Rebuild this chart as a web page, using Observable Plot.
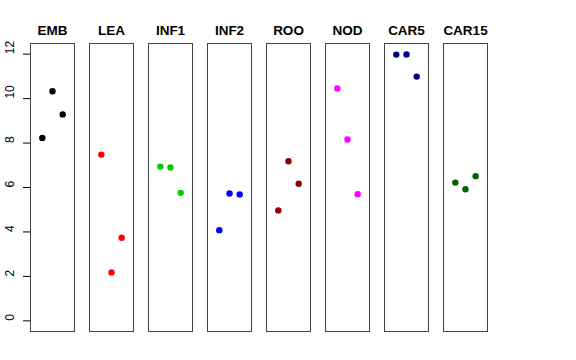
<!DOCTYPE html>
<html>
<head>
<meta charset="utf-8">
<script src="https://cdn.jsdelivr.net/npm/d3@7"></script>
<script src="https://cdn.jsdelivr.net/npm/@observablehq/plot@0.6"></script>
<style>
  html, body { margin: 0; padding: 0; background: #fff; }
  #chart svg { font-family: "Liberation Sans", Arial, Helvetica, sans-serif; }
  #chart g[aria-label="fx-axis tick label"] text { font-weight: bold; }
</style>
</head>
<body>
<div id="chart"></div>
<script>
const panels = ["EMB", "LEA", "INF1", "INF2", "ROO", "NOD", "CAR5", "CAR15"];
const panelColors = ["#000000", "#FF0000", "#00CD00", "#0000FF", "#8B0000", "#FF00FF", "#000080", "#006400"];
const rep1 = [8.23, 7.48, 6.94, 4.08, 4.97, 10.46, 11.98, 6.22];
const rep2 = [10.33, 2.18, 6.90, 5.73, 7.18, 8.16, 11.99, 5.92];
const rep3 = [9.29, 3.74, 5.76, 5.69, 6.17, 5.70, 10.99, 6.51];
const yTicks = [0, 2, 4, 6, 8, 10, 12];

const rows = [];
panels.forEach((p, i) => {
  [rep1, rep2, rep3].forEach((rep, j) => {
    rows.push({panel: p, rep: j + 1, value: rep[i], color: panelColors[i]});
  });
});

const chart = Plot.plot({
  width: 576,
  height: 360,
  marginLeft: 29,
  marginRight: 88,
  marginTop: 43,
  marginBottom: 29,
  style: {fontFamily: '"Liberation Sans", Arial, Helvetica, sans-serif', background: "#fff"},
  fx: {domain: panels, paddingInner: 0.25, paddingOuter: 0, label: null},
  x: {domain: [-0.16, 4.16], axis: null},
  y: {domain: [-0.48, 12.48], axis: null},
  color: {type: "identity"},
  marks: [
    Plot.frame({stroke: "#444", strokeWidth: 1}),
    Plot.axisFx({anchor: "top", tickSize: 0, tickPadding: 9, fontSize: 13.5, fontWeight: "bold", label: null}),
    Plot.axisY({ticks: yTicks, tickSize: 7, tickFormat: () => "", label: null, stroke: "#000"}),
    Plot.text(yTicks, {
      fx: () => panels[0],
      y: d => d,
      text: d => String(d),
      frameAnchor: "left",
      dx: -20,
      rotate: -90,
      fontSize: 12,
      fill: "#000"
    }),
    Plot.dot(rows, {fx: "panel", x: "rep", y: "value", fill: "color", r: 3.2, stroke: null})
  ]
});
document.getElementById("chart").appendChild(chart);
</script>
</body>
</html>
